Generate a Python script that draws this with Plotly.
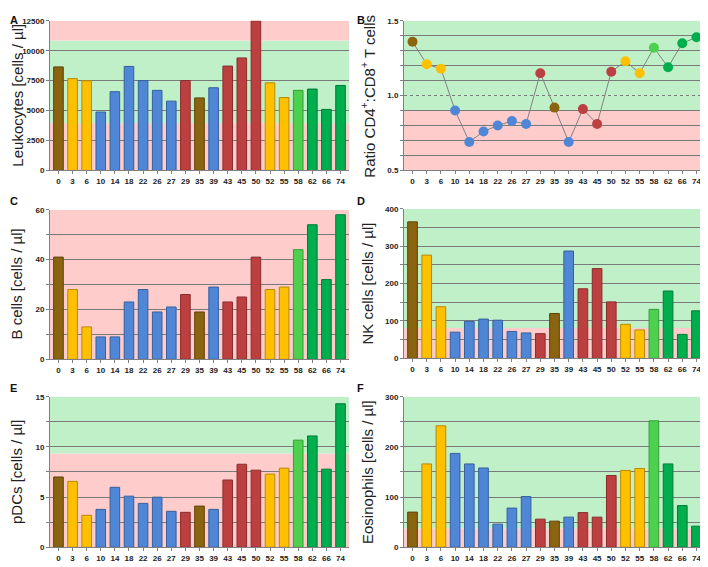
import plotly.graph_objects as go

days = ["0", "3", "6", "10", "14", "18", "22", "26", "27", "29", "35", "39",
        "43", "45", "50", "52", "55", "58", "62", "66", "74"]
groups = ["brown", "yellow", "yellow", "blue", "blue", "blue", "blue", "blue", "blue", "red",
          "brown", "blue", "red", "red", "red", "yellow", "yellow", "lightgreen", "green", "green", "green"]

leukocytes = [8650, 7675, 7490, 4880, 6580, 8690, 7510, 6690, 5790, 7510, 6060, 6910,
              8720, 9400, 12500, 7320, 6090, 6690, 6800, 5100, 7100]
cd4_cd8 = [1.36, 1.21, 1.18, 0.90, 0.69, 0.76, 0.80, 0.83, 0.81, 1.15, 0.92, 0.69,
           0.91, 0.81, 1.16, 1.23, 1.15, 1.32, 1.19, 1.35, 1.39]
b_cells = [41, 28, 13, 9, 9, 23, 28, 19, 21, 26, 19, 29, 23, 25, 41, 28, 29, 44, 54, 32, 58]
nk_cells = [365, 276, 138, 70, 99, 105, 102, 72, 68, 66, 120, 287, 186, 240, 151, 91, 76,
            131, 180, 64, 127]
pdcs = [7.0, 6.56, 3.18, 3.77, 5.97, 5.09, 4.37, 4.99, 3.58, 3.48, 4.1, 3.77, 6.7, 8.27,
        7.68, 7.29, 7.88, 10.67, 11.09, 7.78, 14.3]
eosinophils = [70, 166, 242, 187, 166, 158, 46, 78, 101, 56, 52, 60, 69, 60, 143, 153, 157,
               252, 166, 83, 42]

fill = {"brown": "#8B6410", "yellow": "#FFC000", "blue": "#4F86D6", "red": "#BC4040",
        "lightgreen": "#4DD04D", "green": "#00AE4E"}
edge = {"brown": "#5C420A", "yellow": "#B88A00", "blue": "#35609E", "red": "#8A2C2C",
        "lightgreen": "#35A035", "green": "#007A36"}

PINK = "#FFCCCC"
GREEN = "#C0F0C8"
OFF = 8  # page body margin
W, H = 708 - OFF, 567 - OFF

fig = go.Figure()

def px_dom_x(a, b):
    return [(a - OFF) / W, (b - OFF) / W]

def px_dom_y(top, bottom):
    return [1 - (bottom - OFF) / H, 1 - (top - OFF) / H]

panels = [
    dict(n=1, xd=(50, 349), yd=(17, 169), v=leukocytes, kind="bar", rng=[0, 12500], dt=2500, mn=None,
         fmt="d", bands=[(0, 3950, PINK), (3950, 10850, GREEN), (10850, 12500, PINK)],
         title="Leukocytes [cells / µl]", letter="A", lx=5, ly=3, tx=18),
    dict(n=2, xd=(404, 705), yd=(17, 169), v=cd4_cd8, kind="line", rng=[0.5, 1.5], dt=0.5, mn=0.1,
         fmt=".1f", bands=[(0.5, 0.9, PINK), (0.9, 1.5, GREEN)],
         title="Ratio CD4<sup>+</sup>:CD8<sup>+</sup> T cells", letter="B", lx=355, ly=3, tx=368),
    dict(n=3, xd=(50, 349), yd=(209, 361), v=b_cells, kind="bar", rng=[0, 60], dt=20, mn=10,
         fmt="d", bands=[(0, 60, PINK)],
         title="B cells [cells / µl]", letter="C", lx=5, ly=192, tx=17),
    dict(n=4, xd=(404, 705), yd=(208, 360), v=nk_cells, kind="bar", rng=[0, 400], dt=100, mn=50,
         fmt="d", bands=[(0, 81, PINK), (81, 400, GREEN)],
         title="NK cells [cells / µl]", letter="D", lx=355, ly=192, tx=368),
    dict(n=5, xd=(50, 349), yd=(399, 552), v=pdcs, kind="bar", rng=[0, 15], dt=5, mn=2.5,
         fmt="d", bands=[(0, 9.35, PINK), (9.35, 15, GREEN)],
         title="pDCs [cells / µl]", letter="E", lx=5, ly=382, tx=17),
    dict(n=6, xd=(404, 705), yd=(399, 552), v=eosinophils, kind="bar", rng=[0, 300], dt=100, mn=50,
         fmt="d", bands=[(0, 38, PINK), (38, 300, GREEN)],
         title="Eosinophils [cells / µl]", letter="F", lx=355, ly=382, tx=368),
]

tickfont = dict(family="Liberation Sans, Arial", size=8, color="#222", weight="bold")
annotations = []
shapes = []

for p in panels:
    n = p["n"]
    xa = "x" if n == 1 else f"x{n}"
    ya = "y" if n == 1 else f"y{n}"
    xkey = "xaxis" if n == 1 else f"xaxis{n}"
    ykey = "yaxis" if n == 1 else f"yaxis{n}"
    if p["kind"] == "bar":
        fig.add_trace(go.Bar(
            x=days, y=p["v"], xaxis=xa, yaxis=ya, width=0.68,
            marker=dict(color=[fill[g] for g in groups],
                        line=dict(color=[edge[g] for g in groups], width=1)),
            showlegend=False, cliponaxis=True))
    else:
        fig.add_trace(go.Scatter(
            x=days, y=p["v"], xaxis=xa, yaxis=ya, mode="lines+markers",
            line=dict(color="#808080", width=1),
            marker=dict(color=[fill[g] for g in groups], size=10, line=dict(width=0)),
            showlegend=False))
    xax = dict(domain=px_dom_x(*p["xd"]), anchor=ya, type="category",
               showgrid=False, showline=True, linecolor="#808080", linewidth=1,
               ticks="outside", ticklen=3, tickcolor="#808080", tickfont=tickfont,
               range=[-0.6, len(days) - 0.4], fixedrange=True)
    yax = dict(domain=px_dom_y(*p["yd"]), anchor=xa, range=p["rng"], dtick=p["dt"],
               tick0=p["rng"][0], tickformat=p["fmt"],
               showgrid=True, gridcolor="#7A7A7A", gridwidth=1,
               showline=True, linecolor="#808080", linewidth=1, zeroline=False,
               ticks="outside", ticklen=3, tickcolor="#808080", tickfont=tickfont)
    if p["mn"] is not None:
        yax["minor"] = dict(dtick=p["mn"], showgrid=True, gridcolor="#7A7A7A", gridwidth=1,
                            griddash="solid", ticks="outside", ticklen=3, tickcolor="#808080")
    if n == 2:
        yax["griddash"] = "dot"
    fig.update_layout({xkey: xax, ykey: yax})
    for (a, b, c) in p["bands"]:
        shapes.append(dict(type="rect", xref=f"{xa} domain", yref=ya, x0=0, x1=1, y0=a, y1=b,
                           fillcolor=c, line=dict(width=0), layer="below"))
    ymid = (p["yd"][0] + p["yd"][1]) / 2
    annotations.append(dict(text=p["title"], x=(p["tx"] - OFF) / W, y=1 - (ymid - OFF) / H,
                            xref="paper", yref="paper",
                            textangle=-90, showarrow=False, xanchor="center", yanchor="middle",
                            font=dict(family="Liberation Sans, Arial", size=15, color="#222")))
    annotations.append(dict(text=f"<b>{p['letter']}</b>", x=max(0, p["lx"] - OFF) / W,
                            y=min(1, 1 - (p["ly"] - OFF) / H),
                            xref="paper", yref="paper", showarrow=False, xanchor="left",
                            yanchor="top",
                            font=dict(family="Liberation Sans, Arial", size=11, color="#111")))

fig.update_layout(width=W, height=H, margin=dict(l=0, r=0, t=0, b=0),
                  paper_bgcolor="white", plot_bgcolor="white",
                  shapes=shapes, annotations=annotations, bargap=0.3)

fig.write_html("out.html")
